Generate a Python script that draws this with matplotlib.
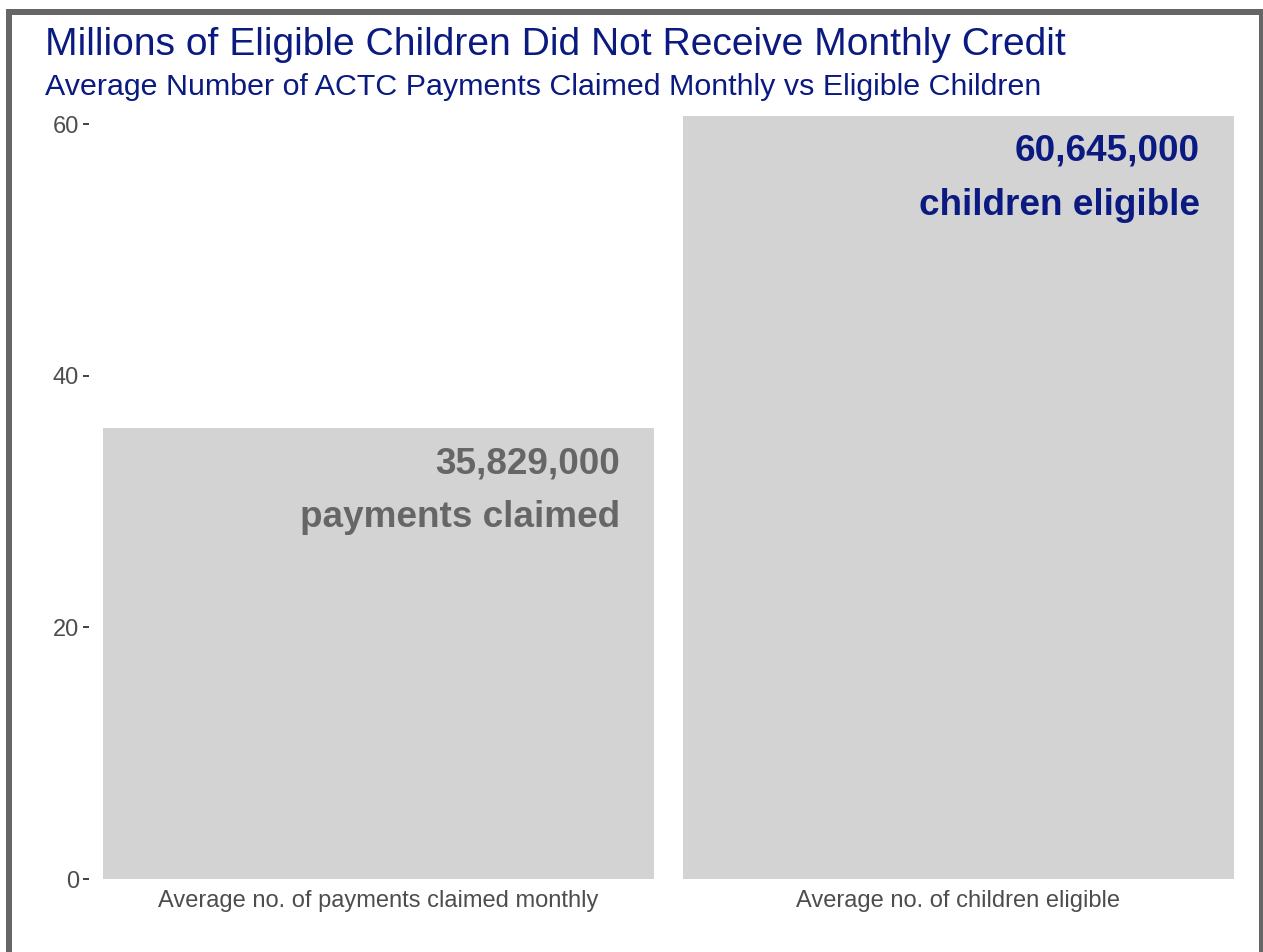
import matplotlib
matplotlib.use("Agg")
import matplotlib.pyplot as plt
from matplotlib.patches import Rectangle

categories = ["Average no. of payments claimed monthly", "Average no. of children eligible"]
values_millions = [35.829, 60.645]
value_labels = ["35,829,000\npayments claimed", "60,645,000\nchildren eligible"]
label_colors = ["#666666", "#0a1a80"]
y_ticks = [0, 20, 40, 60]

title = "Millions of Eligible Children Did Not Receive Monthly Credit"
subtitle = "Average Number of ACTC Payments Claimed Monthly vs Eligible Children"

plt.rcParams["font.family"] = ["Liberation Sans", "DejaVu Sans"]

W, H, DPI = 1263, 952, 100
fig = plt.figure(figsize=(W / DPI, H / DPI), dpi=DPI, facecolor="white")

# panel placed in pixel terms
left_px, right_px = 88.5, 1248.5
bottom_px, top_px = 879, 116
ax = fig.add_axes([left_px / W, (H - bottom_px) / H,
                   (right_px - left_px) / W, (bottom_px - top_px) / H])

xs = [1, 2]
ax.bar(xs, values_millions, width=0.95, color="#d3d3d3", zorder=1)
ax.set_xlim(0.5, 2.5)
ax.set_ylim(0, max(values_millions))

for x, v, lab, c in zip(xs, values_millions, value_labels, label_colors):
    ax.annotate(lab, xy=(x + 0.475, v), xytext=(-34, -18),
                textcoords="offset pixels", ha="right", va="top",
                fontsize=26.6, fontweight="bold", color=c, linespacing=1.7)

ax.set_xticks(xs)
ax.set_xticklabels(categories)
ax.set_yticks(y_ticks)
ax.tick_params(axis="x", length=0, pad=8, labelsize=17, labelcolor="#4d4d4d")
ax.tick_params(axis="y", length=4, width=1.3, color="#333333", pad=3,
               labelsize=17, labelcolor="#4d4d4d")
for s in ax.spines.values():
    s.set_visible(False)
ax.set_facecolor("white")

fig.text(45 / W, 1 - 55 / H, title, ha="left", va="baseline",
         fontsize=28.1, color="#0a1a80")
fig.text(45 / W, 1 - 95 / H, subtitle, ha="left", va="baseline",
         fontsize=21.9, color="#0a1a80")

# dark frame around the figure
frame = Rectangle((9 / W, -0.05), (1262 - 9) / W, 1.05 - 12 / H,
                  transform=fig.transFigure, fill=False,
                  edgecolor="#666666", linewidth=6 * 72 / DPI, zorder=10)
fig.add_artist(frame)

fig.savefig("out.png", dpi=DPI, facecolor="white")
